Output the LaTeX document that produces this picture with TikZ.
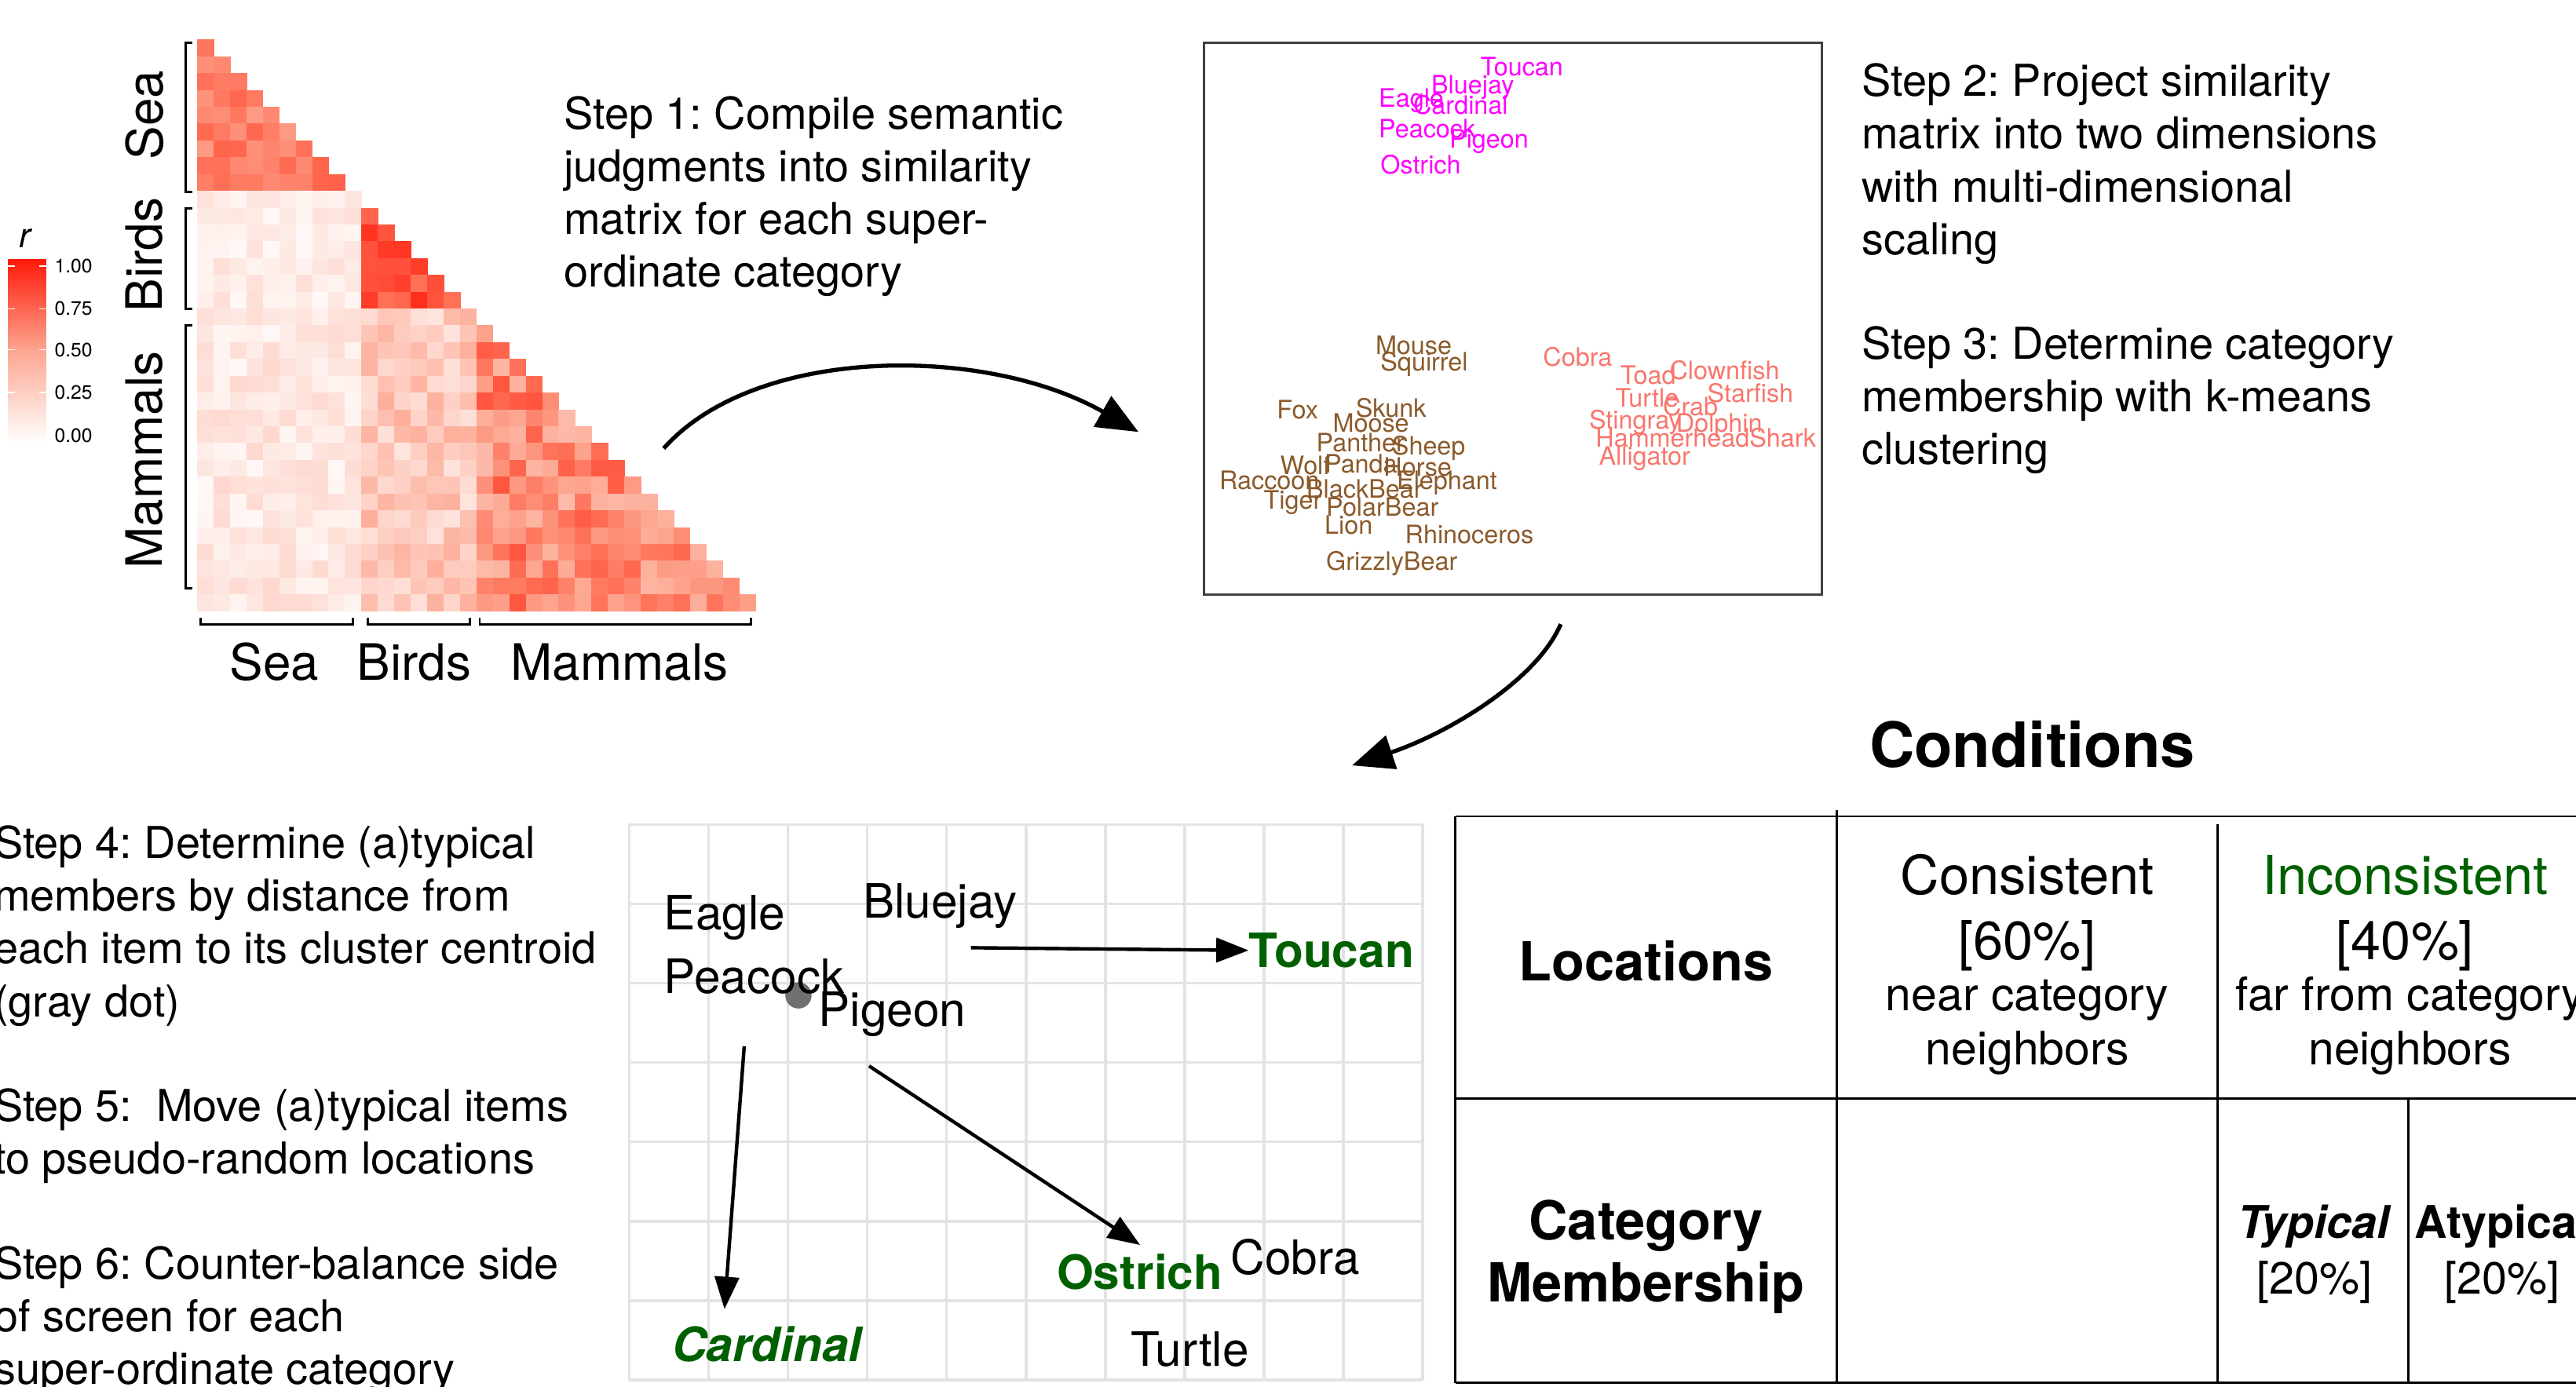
\documentclass[tikz,border=0pt]{standalone}
\usepackage{fontspec}
\setmainfont{TeX Gyre Heros}
\usepackage{tikz}
\usetikzlibrary{arrows.meta,positioning,calc}
\definecolor{birdc}{HTML}{FF00FF}
\definecolor{mammalc}{HTML}{8B5A2B}
\definecolor{seac}{HTML}{F8766D}
\definecolor{okgreen}{HTML}{006000}
\definecolor{gridc}{HTML}{E3E3E3}
\definecolor{dotc}{HTML}{707070}
\definecolor{boxc}{HTML}{404040}
\definecolor{rlow}{HTML}{FDA58F}
\definecolor{rmid}{HTML}{FF6E55}
\definecolor{rhigh}{HTML}{FF1A0A}
\newcommand{\fs}[2]{\fontsize{#1}{#2}\selectfont}
\frenchspacing

\begin{document}
\begin{tikzpicture}[x=0.25mm, y=-0.25mm, >=Stealth,
  steptext/.style={anchor=north west, inner sep=0, align=left, font=\fs{19}{22.8}},
  mdslab/.style={anchor=base west, inner sep=0, font=\fs{11}{13}},
  axlab/.style={inner sep=0, font=\fs{21.7}{26}},
  itemlab/.style={anchor=base west, inner sep=0, font=\fs{20.5}{24}},
  picked/.style={itemlab, text=okgreen, font=\fs{20.5}{24}\bfseries},
  bigarrow/.style={-{Triangle[length=18pt,width=15pt]}, line width=1.8pt},
  movearrow/.style={-{Triangle[length=14pt,width=10.5pt]}, line width=1.5pt},
  bracket/.style={line width=1pt},
  tabline/.style={line width=1pt},
  headcell/.style={inner sep=0, align=center, font=\fs{23.3}{28.5}},
  subcell/.style={inner sep=0, align=center, font=\fs{20}{23.5}},
  rowhead/.style={inner sep=0, align=center, font=\fs{23.3}{27}\bfseries}]
  \useasboundingbox (0,0) rectangle (1568,844);
  \clip (0,0) rectangle (1568,844);

  % similarity matrix
  \pgfmathsetseed{11}
  \foreach \i in {2,...,35}{
    \pgfmathtruncatemacro\last{\i-1}
    \foreach \j in {1,...,\last}{
      \pgfmathtruncatemacro\pair{10*(\i<=10 ? 1 : (\i<=17 ? 2 : 3)) + (\j<=10 ? 1 : (\j<=17 ? 2 : 3))}
      \pgfmathsetmacro\val{\pair==11 ? 0.55+0.25*rnd : (\pair==22 ? 0.74+0.2*rnd : (\pair==33 ? 0.38+0.45*rnd : (\pair==21 ? 0.04+0.14*rnd : (\pair==31 ? 0.04+0.18*rnd : 0.15+0.3*rnd))))}
      \ifdim\val pt<0.5pt
        \pgfmathtruncatemacro\pct{200*\val}
        \colorlet{cellc}{rlow!\pct!white}
      \else\ifdim\val pt<0.75pt
        \pgfmathtruncatemacro\pct{400*(\val-0.5)}
        \colorlet{cellc}{rmid!\pct!rlow}
      \else
        \pgfmathtruncatemacro\pct{400*(\val-0.75)}
        \colorlet{cellc}{rhigh!\pct!rmid}
      \fi\fi
      \fill[cellc] ({120+(\j-1)*10},{24+(\i-2)*10.24}) rectangle +(10.3,10.5);
    }
  }

  % brackets and category labels
  \draw[bracket] (117,26) -- (113,26) -- (113,117) -- (117,117);
  \draw[bracket] (117,127) -- (113,127) -- (113,188) -- (117,188);
  \draw[bracket] (117,198) -- (113,198) -- (113,358) -- (117,358);
  \draw[bracket] (122,376) -- (122,380) -- (215,380) -- (215,376);
  \draw[bracket] (224,376) -- (224,380) -- (286,380) -- (286,376);
  \draw[bracket] (292,376) -- (292,380) -- (457,380) -- (457,376);
  \node[axlab, rotate=90] (ysea) at (88,70) {Sea};
  \node[axlab, rotate=90] (ybirds) at (88,155) {Birds};
  \node[axlab, rotate=90] (ymammals) at (88,280) {Mammals};
  \node[axlab] (xsea) at (167,403) {Sea};
  \node[axlab] (xbirds) at (252,403) {Birds};
  \node[axlab] (xmammals) at (377,403) {Mammals};

  % colour key
  \shade[top color=rhigh, bottom color=rlow] (5,158) rectangle (28,213);
  \shade[top color=rlow, bottom color=white] (5,212.5) rectangle (28,270);
  \foreach \lab/\y in {1.00/162, 0.75/188, 0.50/213, 0.25/239, 0.00/265}{
    \draw[white, line width=0.5pt] (5,\y) -- (9,\y) (24,\y) -- (28,\y);
    \node[anchor=west, inner sep=0, font=\fs{8.4}{10}] at (33,\y) {\lab};
  }
  \node[font=\fs{15}{17}\itshape, inner sep=0] (rlab) at (15,145) {r};

  \node[steptext] (step1) at (343,56) {\strut Step 1: Compile semantic\\judgments into similarity\\matrix for each super-\\ordinate category};
  \coordinate (matrixout) at (404,273);
  \coordinate (mdsin) at (693,263);
  \draw[bigarrow] (matrixout) .. controls (460,210) and (600,210) .. (mdsin);

  % MDS plot
  \draw[boxc, line width=1pt] (733,26) rectangle (1109,362);
  \foreach \nm/\x/\y in {Toucan/901/46, Bluejay/871/57, Eagle/839/65, Cardinal/860/69.5,
      Peacock/839/84, Pigeon/882/90, Ostrich/840/106}
    \node[mdslab, text=birdc] (m-\nm) at (\x,\y) {\nm};
  \foreach \nm/\x/\y in {Mouse/837/216, Squirrel/840/226, Fox/777/255, Skunk/825/254,
      Moose/811/263, Panther/801/275, Sheep/847/277, Wolf/779/289, Panda/806/288,
      Horse/842/290, Raccoon/742/298, BlackBear/795/303, Elephant/850/298, Tiger/769/310,
      PolarBear/807/314, Lion/806/325, Rhinoceros/855/331, GrizzlyBear/807/347}
    \node[mdslab, text=mammalc] (m-\nm) at (\x,\y) {\nm};
  \foreach \nm/\x/\y in {Cobra/939/223, Toad/986/234, Clownfish/1016/231, Turtle/983/248,
      Starfish/1039/245, Crab/1012/253, Stingray/967/261, Dolphin/1020/263,
      HammerheadShark/971/272, Alligator/973/283}
    \node[mdslab, text=seac] (m-\nm) at (\x,\y) {\nm};

  \node[steptext] (step2) at (1133,36) {\strut Step 2: Project similarity\\matrix into two dimensions\\with multi-dimensional\\scaling};
  \node[steptext] (step3) at (1133,196) {\strut Step 3: Determine category\\membership with k-means\\clustering};
  \coordinate (mdsout) at (950,380);
  \coordinate (gridin) at (823,466);
  \draw[bigarrow] (mdsout) .. controls (935,415) and (880,447) .. (gridin);

  % steps 4 to 6
  \node[steptext] (step4) at (-4,500) {\strut Step 4: Determine (a)typical\\members by distance from\\each item to its cluster centroid\\(gray dot)};
  \node[steptext] (step5) at (-4,660) {\strut Step 5:\ \ Move (a)typical items\\to pseudo-random locations};
  \node[steptext] (step6) at (-4,756) {\strut Step 6: Counter-balance side\\of screen for each\\super-ordinate category};

  % screen grid
  \foreach \k in {0,...,10}
    \draw[gridc, line width=1.2pt] ({383+\k*48.3},502) -- ({383+\k*48.3},840);
  \foreach \k in {0,...,7}
    \draw[gridc, line width=1.2pt] (383,{502+\k*48.3}) -- (866,{502+\k*48.3});
  \node[circle, fill=dotc, minimum size=11.4pt, inner sep=0] (centroid) at (486,606) {};
  \node[itemlab] (eagle) at (404,566) {Eagle};
  \node[itemlab] (bluejay) at (525,559) {Bluejay};
  \node[itemlab] (peacock) at (404,605) {Peacock};
  \node[itemlab] (pigeon) at (498,625) {Pigeon};
  \node[picked] (toucan) at (760,589) {Toucan};
  \node[picked] (ostrich) at (643,785) {Ostrich};
  \node[itemlab] (cobra) at (749,776) {Cobra};
  \node[picked, font=\fs{20.5}{24}\bfseries\itshape] (cardinal) at (409,829) {Cardinal};
  \node[itemlab] (turtle) at (688,832) {Turtle};
  \coordinate (fromjay) at (591,577);
  \coordinate (fromcock) at (453,637);
  \coordinate (tocard) at (441,797);
  \coordinate (fromostr) at (529,649);
  \coordinate (toostr) at (694,758);
  \draw[movearrow] (fromjay) -- (toucan.west);
  \draw[movearrow] (fromcock) -- (tocard);
  \draw[movearrow] (fromostr) -- (toostr);

  % conditions table
  \node[inner sep=0, font=\fs{27}{32}\bfseries] (conditions) at (1237,453) {Conditions};
  \draw[tabline] (886,497) -- (1568,497) (886,669) -- (1568,669) (886,842) -- (1568,842);
  \draw[tabline] (886,497) -- (886,842) (1118,493) -- (1118,842)
    (1350,502) -- (1350,842) (1466,669) -- (1466,842);
  \node[rowhead, anchor=base] (locations) at (1002,597) {Locations};
  \node[rowhead, anchor=north] (membership) at (1002,728) {\strut Category\\Membership};
  \node[headcell, anchor=north] (consistent) at (1234,516) {\strut Consistent\\{[60\%]}};
  \node[subcell, anchor=north] (near) at (1234,592) {\strut near category\\neighbors};
  \node[headcell, anchor=north] (inconsistent) at (1464,516) {\strut \textcolor{okgreen}{Inconsistent}\\{[40\%]}};
  \node[subcell, anchor=north] (far) at (1467,592) {\strut far from category\\neighbors};
  \node[subcell, anchor=north, font=\fs{19.5}{24}] (typical) at (1409,730) {\strut\textbf{\textit{Typical}}\\{[20\%]}};
  \node[subcell, anchor=north, font=\fs{19.5}{24}] (atypical) at (1523,730) {\strut\textbf{Atypical}\\{[20\%]}};
\end{tikzpicture}
\end{document}
